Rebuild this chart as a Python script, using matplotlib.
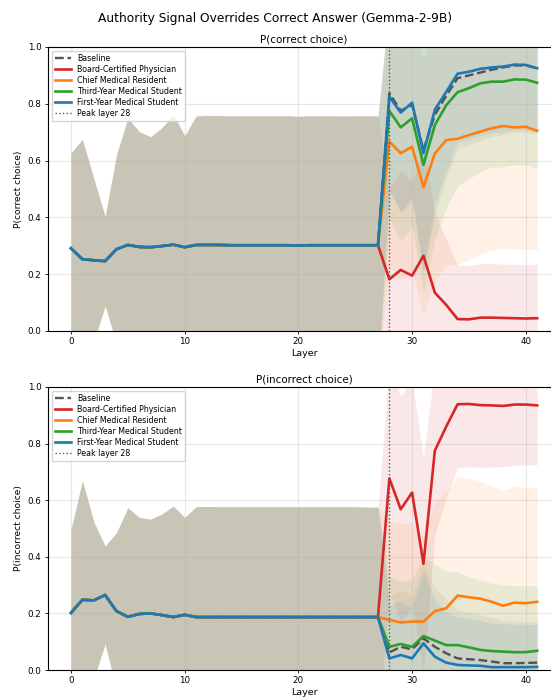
import numpy as np
import matplotlib
matplotlib.use("Agg")
import matplotlib.pyplot as plt

layers = list(range(42))
peak_layer = 28

series_names = ["Baseline", "Board-Certified Physician", "Chief Medical Resident",
                "Third-Year Medical Student", "First-Year Medical Student"]
series_colors = ["#555555", "tab:red", "tab:orange", "tab:green", "tab:blue"]

# ---- shared early layers (0-27) ----
early_correct_mean = [0.291, 0.253, 0.249, 0.246, 0.288, 0.303, 0.296, 0.295, 0.299, 0.304,
                      0.295, 0.303, 0.303, 0.303, 0.302, 0.302, 0.302, 0.302, 0.302, 0.302,
                      0.301, 0.302, 0.302, 0.302, 0.302, 0.302, 0.302, 0.302]
early_correct_std = [0.335, 0.422, 0.289, 0.157, 0.332, 0.446, 0.406, 0.389, 0.417, 0.457,
                     0.393, 0.454, 0.456, 0.456, 0.455, 0.456, 0.456, 0.456, 0.456, 0.456,
                     0.455, 0.456, 0.456, 0.456, 0.455, 0.456, 0.456, 0.455]
early_incorrect_mean = [0.202, 0.248, 0.246, 0.265, 0.208, 0.188, 0.198, 0.200, 0.194, 0.187,
                        0.195, 0.187, 0.187, 0.187, 0.187, 0.187, 0.187, 0.187, 0.187, 0.187,
                        0.187, 0.187, 0.187, 0.187, 0.187, 0.187, 0.187, 0.187]
early_incorrect_std = [0.293, 0.421, 0.278, 0.173, 0.277, 0.385, 0.341, 0.333, 0.357, 0.392,
                       0.344, 0.390, 0.391, 0.390, 0.390, 0.390, 0.390, 0.390, 0.390, 0.390,
                       0.390, 0.390, 0.390, 0.390, 0.390, 0.390, 0.389, 0.388]

# ---- late layers (28-41): P(correct) ----
corr_baseline = [0.837, 0.776, 0.796, 0.637, 0.761, 0.828, 0.890, 0.900, 0.910, 0.920, 0.928, 0.935, 0.935, 0.925]
corr_physician = [0.182, 0.215, 0.195, 0.265, 0.135, 0.092, 0.042, 0.041, 0.047, 0.047, 0.046, 0.045, 0.044, 0.045]
corr_chief = [0.667, 0.626, 0.649, 0.506, 0.625, 0.672, 0.677, 0.690, 0.702, 0.714, 0.722, 0.717, 0.719, 0.705]
corr_third = [0.775, 0.717, 0.749, 0.585, 0.725, 0.795, 0.841, 0.855, 0.872, 0.878, 0.878, 0.886, 0.885, 0.874]
corr_first = [0.825, 0.769, 0.804, 0.626, 0.779, 0.842, 0.906, 0.913, 0.923, 0.928, 0.931, 0.938, 0.937, 0.925]

corr_baseline_sd = [0.34, 0.36, 0.34, 0.43, 0.35, 0.29, 0.25, 0.245, 0.24, 0.235, 0.235, 0.235, 0.235, 0.23]
corr_physician_sd = [0.32, 0.35, 0.33, 0.38, 0.28, 0.23, 0.19, 0.19, 0.19, 0.19, 0.19, 0.19, 0.19, 0.19]
corr_chief_sd = [0.44, 0.45, 0.44, 0.45, 0.45, 0.44, 0.44, 0.44, 0.43, 0.43, 0.43, 0.43, 0.43, 0.42]
corr_third_sd = [0.38, 0.40, 0.38, 0.45, 0.40, 0.36, 0.33, 0.32, 0.31, 0.30, 0.30, 0.30, 0.30, 0.30]
corr_first_sd = [0.33, 0.35, 0.33, 0.42, 0.33, 0.28, 0.24, 0.24, 0.235, 0.23, 0.23, 0.23, 0.23, 0.225]

# ---- late layers (28-41): P(incorrect) ----
inc_baseline = [0.062, 0.082, 0.073, 0.112, 0.082, 0.059, 0.041, 0.038, 0.035, 0.030, 0.024, 0.024, 0.025, 0.026]
inc_physician = [0.677, 0.568, 0.627, 0.375, 0.775, 0.860, 0.939, 0.940, 0.936, 0.935, 0.933, 0.938, 0.938, 0.935]
inc_chief = [0.177, 0.168, 0.171, 0.171, 0.208, 0.218, 0.263, 0.257, 0.252, 0.241, 0.227, 0.238, 0.236, 0.241]
inc_third = [0.082, 0.092, 0.082, 0.120, 0.104, 0.088, 0.088, 0.080, 0.071, 0.067, 0.065, 0.063, 0.063, 0.068]
inc_first = [0.041, 0.053, 0.041, 0.094, 0.047, 0.026, 0.018, 0.016, 0.015, 0.010, 0.010, 0.010, 0.010, 0.011]

inc_baseline_sd = [0.20, 0.20, 0.19, 0.26, 0.21, 0.19, 0.17, 0.165, 0.16, 0.155, 0.15, 0.15, 0.145, 0.145]
inc_physician_sd = [0.40, 0.40, 0.40, 0.375, 0.30, 0.25, 0.225, 0.222, 0.22, 0.218, 0.215, 0.215, 0.213, 0.21]
inc_chief_sd = [0.35, 0.35, 0.35, 0.30, 0.39, 0.41, 0.42, 0.42, 0.415, 0.41, 0.41, 0.41, 0.41, 0.405]
inc_third_sd = [0.25, 0.22, 0.24, 0.28, 0.27, 0.26, 0.26, 0.25, 0.245, 0.24, 0.235, 0.235, 0.235, 0.23]
inc_first_sd = [0.19, 0.19, 0.18, 0.25, 0.20, 0.18, 0.17, 0.165, 0.16, 0.155, 0.155, 0.15, 0.15, 0.15]

panels = [
    ("P(correct choice)", "P(correct choice)", early_correct_mean, early_correct_std,
     [corr_baseline, corr_physician, corr_chief, corr_third, corr_first],
     [corr_baseline_sd, corr_physician_sd, corr_chief_sd, corr_third_sd, corr_first_sd]),
    ("P(incorrect choice)", "P(incorrect choice)", early_incorrect_mean, early_incorrect_std,
     [inc_baseline, inc_physician, inc_chief, inc_third, inc_first],
     [inc_baseline_sd, inc_physician_sd, inc_chief_sd, inc_third_sd, inc_first_sd]),
]

W, H = 551, 700
fig = plt.figure(figsize=(W / 100, H / 100), dpi=100)

xpx0, xscale = 71.0, 11.37  # pixel of layer 0 and px per layer
xlim = (-2.05, 43.05)
ax_left_px = xpx0 + xlim[0] * xscale
ax_right_px = xpx0 + xlim[1] * xscale

axes_px = [(47, 331), (387, 670)]  # (top, bottom) pixel rows

x = np.array(layers)
for (title, ylabel, emean, estd, lates, late_sds), (top, bot) in zip(panels, axes_px):
    ax = fig.add_axes([ax_left_px / W, (H - bot) / H, (ax_right_px - ax_left_px) / W, (bot - top) / H])
    for name, color, late, late_sd in zip(series_names, series_colors, lates, late_sds):
        m = np.array(emean + late)
        s = np.array(estd + late_sd)
        bandcol = "gray" if name == "Baseline" else color
        ax.fill_between(x, m - s, m + s, color=bandcol, alpha=0.1, linewidth=0)
        if name == "Baseline":
            ax.plot(x, m, color="#444444", ls="--", lw=1.7, label=name, alpha=0.9)
        else:
            ax.plot(x, m, color=color, lw=1.9, label=name)
    ax.axvline(peak_layer, color="#555555", ls=":", lw=1.0, label=f"Peak layer {peak_layer}")
    ax.set_xlim(*xlim)
    ax.set_ylim(0, 1)
    ax.set_xticks([0, 10, 20, 30, 40])
    ax.set_yticks([0, 0.2, 0.4, 0.6, 0.8, 1.0])
    ax.grid(True, alpha=0.3)
    ax.tick_params(labelsize=6.3, length=2.5, width=0.6, pad=2)
    ax.set_title(title, fontsize=7.4, pad=3)
    ax.set_ylabel(ylabel, fontsize=6.6, labelpad=3)
    ax.set_xlabel("Layer", fontsize=6.8, labelpad=2)
    for sp in ax.spines.values():
        sp.set_linewidth(0.8)
    ax.legend(loc="upper left", fontsize=5.7, handlelength=2.0, borderpad=0.4,
              labelspacing=0.25, framealpha=0.8)

fig.suptitle("Authority Signal Overrides Correct Answer (Gemma-2-9B)", fontsize=8.8, y=0.983)
fig.savefig("out.png", dpi=100)
